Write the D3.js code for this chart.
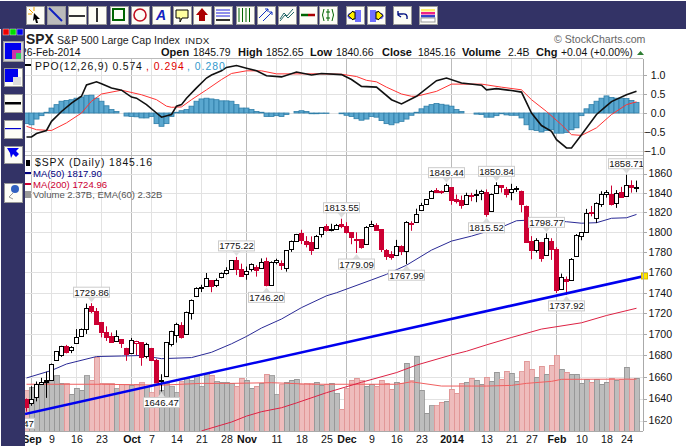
<!DOCTYPE html>
<html>
<head>
<meta charset="utf-8">
<script src="https://cdn.jsdelivr.net/npm/d3@7"></script>
<style>
  html, body { margin: 0; padding: 0; background: #fff; }
  svg { display: block; }
  text { font-family: "Liberation Sans", Arial, sans-serif; }
</style>
</head>
<body>
<svg id="chart" width="686" height="446"></svg>
<script>
// trading days, Aug 28 2013 to Feb 26 2014
const dates = ["Aug 28","Aug 29","Aug 30",
  "Sep 3","Sep 4","Sep 5","Sep 6","Sep 9","Sep 10","Sep 11","Sep 12","Sep 13","Sep 16","Sep 17","Sep 18","Sep 19","Sep 20","Sep 23","Sep 24","Sep 25","Sep 26","Sep 27","Sep 30",
  "Oct 1","Oct 2","Oct 3","Oct 4","Oct 7","Oct 8","Oct 9","Oct 10","Oct 11","Oct 14","Oct 15","Oct 16","Oct 17","Oct 18","Oct 21","Oct 22","Oct 23","Oct 24","Oct 25","Oct 28","Oct 29","Oct 30","Oct 31",
  "Nov 1","Nov 4","Nov 5","Nov 6","Nov 7","Nov 8","Nov 11","Nov 12","Nov 13","Nov 14","Nov 15","Nov 18","Nov 19","Nov 20","Nov 21","Nov 22","Nov 25","Nov 26","Nov 27","Nov 29",
  "Dec 2","Dec 3","Dec 4","Dec 5","Dec 6","Dec 9","Dec 10","Dec 11","Dec 12","Dec 13","Dec 16","Dec 17","Dec 18","Dec 19","Dec 20","Dec 23","Dec 24","Dec 26","Dec 27","Dec 30","Dec 31",
  "Jan 2","Jan 3","Jan 6","Jan 7","Jan 8","Jan 9","Jan 10","Jan 13","Jan 14","Jan 15","Jan 16","Jan 17","Jan 21","Jan 22","Jan 23","Jan 24","Jan 27","Jan 28","Jan 29","Jan 30","Jan 31",
  "Feb 3","Feb 4","Feb 5","Feb 6","Feb 7","Feb 10","Feb 11","Feb 12","Feb 13","Feb 14","Feb 18","Feb 19","Feb 20","Feb 21","Feb 24","Feb 25","Feb 26"];

const opens = [1630.25,1633.5,1640,
  1635.95,1640.72,1653.28,1657.44,1656.85,1675.11,1681.04,1689.21,1685.04,1691.7,1697.73,1705.74,1727.34,1722.44,1711.44,1702.6,1698.02,1694.05,1695.52,1687.26,
  1682.41,1691.9,1692.35,1678.79,1687.15,1676.22,1656.99,1660.88,1691.09,1699.86,1709.17,1700.49,1720.17,1736.72,1745.2,1746.48,1752.27,1747.48,1756.01,1759.42,1762.93,1772.27,1763.24,
  1758.7,1763.4,1765.67,1765,1770.74,1748.37,1769.96,1769.51,1764.37,1782.75,1790.66,1798.82,1790.79,1789.59,1783.52,1797.21,1806.33,1802.87,1803.48,1808.01,
  1806.55,1800.1,1793.15,1792.82,1788.36,1806.21,1807.51,1802.76,1781.71,1777.98,1777.48,1786.47,1781.46,1809,1810.39,1822.92,1828.02,1834.96,1842.97,1841.47,1842.61,
  1845.86,1833.21,1832.31,1828.71,1837.9,1839,1840.06,1841.26,1821.36,1840.52,1847.99,1844.23,1841.05,1844.71,1842.29,1826.96,1791.03,1783,1790.15,1777.17,1790.88,
  1782.68,1743.82,1753.38,1752.99,1776.01,1796.2,1800.45,1820.12,1814.82,1828.46,1839.03,1838.9,1829.24,1841.07,1836.78,1847.66,1845.79];
const highs = [1641.18,1646.41,1640.08,
  1651.35,1655.72,1659.17,1664.83,1672.4,1684.09,1689.13,1689.97,1688.73,1704.95,1705.52,1729.44,1729.86,1725.23,1711.44,1707.63,1701.71,1703.85,1695.52,1687.26,
  1696.55,1693.87,1692.35,1691.94,1687.15,1676.79,1662.47,1692.56,1703.44,1711.03,1711.57,1721.76,1733.45,1745.31,1747.79,1759.33,1752.27,1753.94,1759.82,1764.99,1772.09,1775.22,1768.53,
  1765.67,1768.78,1767.03,1773.74,1774.54,1770.78,1773.44,1771.78,1782,1791.53,1798.22,1802.33,1795.95,1795.73,1797.16,1804.84,1808.1,1808.42,1808.27,1813.55,
  1810.02,1800.1,1799.8,1792.82,1806.04,1811.52,1808.98,1802.97,1782.99,1780.92,1792.22,1786.77,1811.08,1810.88,1823.75,1829.75,1833.32,1842.84,1844.89,1842.47,1849.44,
  1845.86,1838.24,1837.16,1840.1,1840.02,1843.23,1843.15,1843.45,1839.26,1850.84,1847.99,1846.04,1849.31,1846.87,1842.29,1826.96,1795.98,1793.87,1790.15,1798.77,1793.88,
  1784.83,1758.73,1755.79,1774.06,1798.03,1799.94,1823.54,1826.55,1830.25,1841.65,1842.87,1847.5,1842.79,1846.13,1858.71,1852.91,1852.65];
const lows = [1627.47,1630.88,1628.05,
  1633.41,1637.41,1653.07,1640.62,1656.85,1675.11,1678.7,1681.96,1682.22,1691.7,1697.73,1700.35,1720.2,1708.89,1697.1,1693.74,1691.88,1693.11,1687.11,1674.99,
  1682.07,1680.34,1670.36,1677.33,1674.7,1655.03,1646.47,1660.88,1688.52,1692.13,1695.93,1700.49,1714.12,1735.74,1740.67,1746.48,1740.5,1745.5,1754.17,1757.67,1762.93,1757.24,1755.72,
  1752.7,1760.73,1755.76,1764.23,1746.2,1747.63,1767.85,1762.29,1760.64,1780.22,1790.66,1788,1784.72,1777.23,1783.52,1794.7,1800.58,1800.77,1802.77,1803.98,
  1798.6,1787.85,1779.09,1783.38,1788.36,1806.21,1802.62,1780.09,1772.28,1772.45,1777.48,1777.05,1767.99,1801.35,1810.25,1822.92,1828.02,1834.96,1839.81,1838.77,1842.41,
  1827.74,1829.13,1823.73,1828.71,1831.4,1830.38,1832.43,1815.52,1821.36,1840.52,1840.3,1835.23,1832.38,1840.88,1820.06,1790.29,1772.88,1779.49,1770.45,1777.17,1772.26,
  1739.66,1743.82,1737.92,1752.99,1776.01,1791.83,1800.41,1815.97,1809.22,1825.59,1835.01,1826.99,1824.58,1835.6,1836.78,1840.19,1840.66];
const closes = [1634.96,1638.17,1632.97,
  1639.77,1653.08,1655.08,1655.17,1671.71,1683.99,1689.13,1683.42,1687.99,1697.6,1704.76,1725.52,1722.34,1709.91,1701.84,1697.42,1692.77,1698.67,1691.75,1681.55,
  1695,1693.87,1678.66,1690.5,1676.12,1655.45,1656.4,1692.56,1703.2,1710.14,1698.06,1721.54,1733.15,1744.5,1744.66,1754.67,1746.38,1752.07,1759.77,1762.11,1771.95,1763.31,1756.54,
  1761.64,1767.93,1762.97,1770.49,1747.15,1770.61,1771.89,1767.69,1782,1790.62,1798.18,1791.53,1787.87,1781.37,1795.85,1804.76,1802.48,1802.75,1807.23,1805.81,
  1800.9,1795.15,1792.81,1785.03,1805.09,1808.37,1802.62,1782.22,1775.5,1775.32,1786.54,1781,1810.65,1809.6,1818.32,1827.99,1833.32,1842.02,1841.4,1841.07,1848.36,
  1831.98,1831.37,1826.77,1837.88,1837.49,1838.13,1842.37,1819.2,1838.88,1848.38,1845.89,1838.7,1843.8,1844.86,1828.46,1790.29,1781.56,1792.5,1774.2,1794.19,1782.59,
  1741.89,1755.2,1751.64,1773.43,1797.02,1799.84,1819.75,1819.26,1829.83,1838.63,1840.76,1828.75,1839.78,1836.25,1847.61,1845.12,1845.16];

// volume in billions
const volumes = [1.79,1.79,1.8,
  1.95,2.06,2.09,2.14,2.29,2.46,2.13,2.13,1.65,1.91,1.83,2.46,2.28,3.3,2.13,2.13,2.13,1.88,2.09,2.09,
  2.05,2.1,2.16,1.98,1.71,2.13,1.83,2.13,1.98,1.71,2.2,2.35,2.25,2.43,1.98,2.55,2.5,2.2,2.17,2.17,2.13,2,2.35,
  2.28,1.91,2.01,2.13,2.53,2.46,1.61,2.06,2.19,2.26,2.31,2.06,2.12,2.12,2.19,2.04,2.06,2.13,1.66,0.97,
  1.89,2.28,2.37,2.24,2.01,2.09,2.01,2.28,2.13,1.86,2.19,2.13,3.02,2.24,3.35,1.83,0.8,1.14,1.14,1.29,1.34,
  1.86,1.69,2.13,2.19,2.37,2.26,2.09,2.4,2.22,2.62,2.31,2.67,2.58,2.22,2.64,3.11,2.76,2.4,2.89,2.53,2.94,
  3.38,2.76,2.62,2.53,2.53,2.13,2.31,2.19,2.31,2.09,2.18,2.35,2.28,2.31,2.85,2.31,2.37];

// PPO histogram per day
const ppoHist = [-0.25,-0.27,-0.28,
  -0.31,-0.16,-0.07,0.02,0.13,0.22,0.31,0.33,0.35,0.39,0.42,0.46,0.47,0.39,0.31,0.19,0.09,0.04,0,-0.08,
  -0.09,-0.1,-0.13,-0.13,-0.09,-0.28,-0.35,-0.28,-0.09,0.02,0.06,0.09,0.18,0.31,0.37,0.39,0.37,0.35,0.32,0.32,0.31,0.22,0.13,
  0.13,0.09,0.04,0.02,-0.09,-0.09,-0.07,-0.09,-0.04,0,0.04,0.06,0.04,-0.02,-0.02,-0.01,-0.01,0,0,-0.02,
  -0.06,-0.09,-0.15,-0.19,-0.16,-0.09,-0.11,-0.2,-0.28,-0.31,-0.26,-0.22,-0.16,-0.06,0.02,0.11,0.18,0.22,0.25,0.23,0.21,
  0.18,0.09,0.04,0,0,-0.03,-0.04,-0.11,-0.11,-0.07,-0.02,-0.05,-0.06,-0.06,-0.13,-0.31,-0.44,-0.46,-0.5,-0.46,-0.44,
  -0.53,-0.53,-0.51,-0.44,-0.39,-0.07,0.11,0.22,0.31,0.39,0.45,0.41,0.39,0.39,0.38,0.33,0.28];

// line series: bar numbers into dates, then values
const ppoBars = [2,3,4,6,7,9,11,13,14,16,17,19,21,23,24,26,28,29,31,32,33,34,36,38,39,41,42,44,46,48,50,53,56,59,61,65,67,69,72,75,77,80,84,86,89,93,94,96,99,101,103,105,107,108,110,111,113,116,118,119,122,124];
const ppoLine = [-0.63,-0.63,-0.54,-0.46,-0.22,0.04,0.26,0.44,0.74,0.82,0.77,0.66,0.6,0.42,0.39,0.22,0,-0.11,-0.04,0.18,0.22,0.39,0.66,0.92,1,1.11,1.2,1.25,1.18,1.11,0.98,0.95,1.08,1,1.04,1.01,0.88,0.7,0.68,0.35,0.24,0.44,0.85,0.92,0.79,0.73,0.61,0.64,0.59,0.55,0,-0.33,-0.48,-0.7,-0.92,-0.92,-0.57,-0.04,0.19,0.3,0.48,0.574];
const signalBars = [2,4,7,10,13,15,17,21,25,28,30,31,33,35,38,41,43,46,49,52,57,61,65,68,70,72,74,77,79,80,84,87,93,97,101,103,106,109,111,113,116,119,122,124];
const signalLine = [-0.35,-0.44,-0.46,-0.26,0,0.31,0.5,0.6,0.48,0.35,0.18,0.15,0.16,0.35,0.61,0.88,1.04,1.11,1.11,1.03,1.03,1.03,1.02,0.96,0.86,0.82,0.68,0.5,0.44,0.44,0.57,0.76,0.76,0.68,0.61,0.35,0.04,-0.31,-0.57,-0.59,-0.39,-0.04,0.22,0.294];

const ma50Bars = [2,7,10,16,21,25,29,35,39,43,46,49,53,57,62,64,71,74,78,83,87,91,94,97,100,102,106,110,113,116,119,122,124];
const ma50 = [1659,1666,1672,1679,1679.5,1680,1677,1678,1683,1691,1698,1706,1714.6,1725.6,1737,1740,1752.5,1758,1767,1782,1791,1796,1800.5,1805,1811.5,1812,1812,1810.5,1809,1809.5,1814,1814.5,1817.9];
const ma200Bars = [37,43,46,49,53,56,62,69,76,80,87,90,94,99,105,113,118,124];
const ma200 = [1610.6,1618.6,1624,1628,1631.6,1636,1645.4,1655,1664,1671,1680.5,1684,1690,1697,1705,1711,1718,1724.96];

const volEmaBars = [2,17,29,37,43,51,59,76,79,85,91,94,99,102,107,109,124];
const volEma = [2.09,2.09,2.05,2.13,2.13,2.16,2.09,2.09,2.2,2.01,2.01,2.01,2.04,2.13,2.22,2.31,2.32];

// annotated highs and lows
const noteBars = ["Aug 28","Sep 19","Oct 9","Oct 30","Nov 7","Nov 29","Dec 4","Dec 18","Dec 31","Jan 13","Jan 15","Jan 30","Feb 5","Feb 24"];
const noteValues = [1627.47,1729.86,1646.47,1775.22,1746.2,1813.55,1779.09,1767.99,1849.44,1815.52,1850.84,1798.77,1737.92,1858.71];
const noteSides = ["low","high","low","high","low","high","low","low","high","low","high","high","low","high"];

// hand drawn trend line, bar number and price at each end
const trendBars = [1.7,125.6];
const trendPrices = [1625.9,1756.4];

const priceTicks = [1620,1640,1660,1680,1700,1720,1740,1760,1780,1800,1820,1840,1860];
const ppoTicks = [-1,-0.5,0,0.5,1];
const tickDates = ["Sep 3","Sep 9","Sep 16","Sep 23","Oct 1","Oct 7","Oct 14","Oct 21","Oct 28","Nov 1","Nov 11","Nov 18","Nov 25","Dec 2","Dec 9","Dec 16","Dec 23","Jan 2","Jan 13","Jan 21","Jan 27","Feb 3","Feb 10","Feb 18","Feb 24"];
const tickLabels = ["Sep","9","16","23","Oct","7","14","21","28","Nov","11","18","25","Dec","9","16","23","2014","13","21","27","Feb","10","18","24"];
const boldTicks = ["Sep","Oct","Nov","Dec","2014","Feb"];

const NAVY = "#333366", RED = "#cc0033";
const svg = d3.select("#chart");

// scales
const x = d3.scaleLinear().domain([0, dates.length - 1]).range([16.5, 636.5]);
const xDate = d => x(dates.indexOf(d));
const yPrice = d3.scaleLog().domain([1620, 1860]).range([420.5, 173.5]);
const yPpo = d3.scaleLinear().domain([-1, 1]).range([151, 75]);
const yVol = d3.scaleLinear().domain([0, 2.37]).range([431, 378]);

svg.append("rect").attr("width", 686).attr("height", 446).attr("fill", "#fff");

const defs = svg.append("defs");
defs.append("clipPath").attr("id", "clipPrice").append("rect").attr("x", 25).attr("y", 155).attr("width", 618).attr("height", 276);
defs.append("clipPath").attr("id", "clipPpo").append("rect").attr("x", 25).attr("y", 59).attr("width", 618).attr("height", 96);

// grid
const grid = svg.append("g").attr("shape-rendering", "crispEdges");
[[59, 155], [155, 431]].forEach(([top, bottom]) => {
  grid.selectAll(null).data(tickDates).enter().append("line")
    .attr("x1", d => Math.floor(xDate(d)) + 0.5).attr("x2", d => Math.floor(xDate(d)) + 0.5)
    .attr("y1", top).attr("y2", bottom)
    .attr("stroke", (d, i) => boldTicks.includes(tickLabels[i]) ? "#bbb" : "#e2e2e2");
});
grid.selectAll(null).data(priceTicks).enter().append("line")
  .attr("x1", 25).attr("x2", 643)
  .attr("y1", d => Math.round(yPrice(d)) + 0.5).attr("y2", d => Math.round(yPrice(d)) + 0.5)
  .attr("stroke", "#e2e2e2");
grid.selectAll(null).data(ppoTicks).enter().append("line")
  .attr("x1", 25).attr("x2", 643)
  .attr("y1", d => Math.round(yPpo(d)) + 0.5).attr("y2", d => Math.round(yPpo(d)) + 0.5)
  .attr("stroke", "#e2e2e2");

// PPO panel
const ppoPanel = svg.append("g").attr("clip-path", "url(#clipPpo)");
ppoPanel.selectAll("rect").data(ppoHist).enter().append("rect")
  .attr("x", (d, i) => x(i) - 2.5).attr("width", 5)
  .attr("y", d => Math.min(yPpo(d), yPpo(0)))
  .attr("height", d => Math.abs(yPpo(d) - yPpo(0)))
  .attr("fill", "#5aa7cf").attr("stroke", "#2f7ea8").attr("stroke-width", 0.8);
const seriesLine = (bars, vals, yScale) => d3.line().x((d, i) => x(bars[i])).y(d => yScale(d))(vals);
ppoPanel.append("path").attr("d", seriesLine(signalBars, signalLine, yPpo))
  .attr("fill", "none").attr("stroke", "#ff3333").attr("stroke-width", 1);
ppoPanel.append("path").attr("d", seriesLine(ppoBars, ppoLine, yPpo))
  .attr("fill", "none").attr("stroke", "#111").attr("stroke-width", 1.6);

// volume overlay
const pricePanel = svg.append("g").attr("clip-path", "url(#clipPrice)");
const isDown = i => i > 0 && closes[i] < closes[i - 1];
pricePanel.selectAll("rect.vol").data(volumes).enter().append("rect").attr("class", "vol")
  .attr("x", (d, i) => x(i) - 2.5).attr("width", 5)
  .attr("y", d => yVol(d)).attr("height", d => yVol(0) - yVol(d))
  .attr("fill", (d, i) => isDown(i) ? "#eebcbc" : "#bdbdbd")
  .attr("stroke", (d, i) => isDown(i) ? "#dd8f8f" : "#8f8f8f").attr("stroke-width", 0.8)
  .attr("shape-rendering", "crispEdges");
pricePanel.append("path").attr("d", seriesLine(volEmaBars, volEma, yVol))
  .attr("fill", "none").attr("stroke", "#f06060").attr("stroke-width", 1);

// moving averages
pricePanel.append("path").attr("d", seriesLine(ma50Bars, ma50, yPrice))
  .attr("fill", "none").attr("stroke", "#2a2a96").attr("stroke-width", 1);
pricePanel.append("path").attr("d", seriesLine(ma200Bars, ma200, yPrice))
  .attr("fill", "none").attr("stroke", "#dd2244").attr("stroke-width", 1);

// candles
const candles = pricePanel.selectAll("g.candle").data(dates).enter().append("g").attr("class", "candle");
const candleColor = i => (isDown(i) ? RED : "#000");
candles.append("line")
  .attr("x1", (d, i) => x(i)).attr("x2", (d, i) => x(i))
  .attr("y1", (d, i) => yPrice(highs[i])).attr("y2", (d, i) => yPrice(lows[i]))
  .attr("stroke", (d, i) => candleColor(i));
candles.append("rect")
  .attr("x", (d, i) => x(i) - 2).attr("width", 4)
  .attr("y", (d, i) => Math.round(yPrice(Math.max(opens[i], closes[i]))) + 0.5)
  .attr("height", (d, i) => Math.max(Math.abs(yPrice(opens[i]) - yPrice(closes[i])), 0.5))
  .attr("fill", (d, i) => closes[i] > opens[i] ? "#fff" : candleColor(i))
  .attr("stroke", (d, i) => candleColor(i))
  .attr("shape-rendering", "crispEdges");

// trend line
pricePanel.append("path").attr("d", seriesLine(trendBars, trendPrices, yPrice))
  .attr("fill", "none").attr("stroke", "#0000ee").attr("stroke-width", 2.6);

// high / low notes
const notes = pricePanel.selectAll("g.note").data(noteBars).enter().append("g").attr("class", "note")
  .attr("transform", (d, i) => `translate(${xDate(d)},${yPrice(noteValues[i])})`);
notes.append("path")
  .attr("d", (d, i) => noteSides[i] === "high" ? "M-4,-6L0,-1L4,-6Z" : "M-4,6L0,1L4,6Z")
  .attr("fill", "#ddd");
notes.append("rect")
  .attr("x", -18).attr("width", 36).attr("height", 10)
  .attr("y", (d, i) => noteSides[i] === "high" ? -16 : 6)
  .attr("fill", "#fff").attr("stroke", "#ccc");
notes.append("text")
  .attr("y", (d, i) => noteSides[i] === "high" ? -7.5 : 14.5)
  .attr("text-anchor", "middle").attr("font-size", 9.6).attr("fill", "#111")
  .text((d, i) => noteValues[i].toFixed(2));

// trend line handle
svg.append("rect").attr("x", x(trendBars[1]) - 3).attr("y", yPrice(trendPrices[1]) - 3)
  .attr("width", 6).attr("height", 6).attr("fill", "#ffe600").attr("stroke", "#d8b800");

// axes
const styleAxis = (g, size) => {
  g.selectAll("path,line").attr("stroke", "#aaa").attr("shape-rendering", "crispEdges");
  g.selectAll("text").attr("font-size", size).attr("fill", "#111")
    .attr("font-family", '"Liberation Sans", Arial, sans-serif');
};
const priceAxis = svg.append("g").attr("transform", "translate(643.5,0)")
  .call(d3.axisRight(yPrice).tickValues(priceTicks).tickFormat(d3.format("d")).tickSize(3).tickPadding(3));
priceAxis.select(".domain").attr("d", "M0,155V431");
styleAxis(priceAxis, 10.6);
priceAxis.selectAll("text").attr("x", 5);
const ppoAxis = svg.append("g").attr("transform", "translate(643.5,0)")
  .call(d3.axisRight(yPpo).tickValues(ppoTicks).tickFormat(d3.format(".1f")).tickSize(3).tickPadding(3));
ppoAxis.select(".domain").attr("d", "M0,59V155");
styleAxis(ppoAxis, 10.6);
ppoAxis.selectAll("text").attr("text-anchor", "end").attr("x", 22);

const dateAxis = svg.append("g").attr("transform", "translate(0,431.5)")
  .call(d3.axisBottom(x).tickValues(tickDates.map(d => dates.indexOf(d)))
    .tickFormat((d, i) => tickLabels[i]).tickSize(0).tickPadding(4));
dateAxis.select(".domain").attr("d", "M25,0H643");
styleAxis(dateAxis, 10.6);
dateAxis.selectAll("text").attr("font-weight", (d, i) => boldTicks.includes(tickLabels[i]) ? "bold" : "normal");

svg.append("line").attr("x1", 25).attr("x2", 643).attr("y1", 155.5).attr("y2", 155.5).attr("stroke", "#bbb");
svg.append("line").attr("x1", 25).attr("x2", 643).attr("y1", 58.5).attr("y2", 58.5).attr("stroke", "#bbb");

// header text
const headerText = (tx, ty, str, size, opts = {}) => svg.append("text").attr("x", tx).attr("y", ty)
  .attr("font-size", size).attr("fill", opts.fill || "#111")
  .attr("font-weight", opts.bold ? "bold" : "normal")
  .attr("font-family", opts.font || null)
  .attr("letter-spacing", opts.track || null).text(str);
headerText(26, 44, "SPX", 13.8, { bold: true, fill: "#222" });
headerText(57, 44, "S&P 500 Large Cap Index", 10.6, { fill: "#222" });
headerText(185, 44, "INDX", 9.8, { fill: "#222", track: 0.3 });
headerText(554, 43, "© StockCharts.com", 10.6, { fill: "#666", font: "DejaVu Sans", track: 0 });

const quoteRow = [[21, "26-Feb-2014", 0], [161, "Open", 1], [193, "1845.79", 0], [238, "High", 1], [266, "1852.65", 0], [310, "Low", 1], [336, "1840.66", 0], [382, "Close", 1], [418, "1845.16", 0], [462, "Volume", 1], [508, "2.4B", 0], [536, "Chg", 1], [561, "+0.04 (+0.00%)", 0]];
quoteRow.forEach(([tx, str, b]) => headerText(tx, 56, str, b ? 11 : 10.4, { bold: !!b }));
svg.append("path").attr("d", "M637,55h7l-3.5,-4Z").attr("fill", "#2e7d32");

// legends
headerText(35, 70, "PPO(12,26,9) 0.574", 10.4, { font: "DejaVu Sans", fill: "#111", track: 0.85 });
headerText(146, 70, ", 0.294", 10.4, { font: "DejaVu Sans", fill: "#e00000", track: 1 });
headerText(187, 70, ", 0.280", 10.4, { font: "DejaVu Sans", fill: "#3399cc", track: 1 });
svg.append("rect").attr("x", 25).attr("y", 64).attr("width", 6).attr("height", 2).attr("fill", "#000");

headerText(35, 166, "$SPX (Daily) 1845.16", 10.4, { font: "DejaVu Sans", track: 0.9 });
headerText(33, 177, "MA(50) 1817.90", 9.6, { fill: "#000080" });
headerText(33, 188, "MA(200) 1724.96", 9.6, { fill: RED });
headerText(33, 198, "Volume 2.37B, EMA(60) 2.32B", 9.5, { fill: "#555" });
svg.append("rect").attr("x", 26).attr("y", 160).attr("width", 4).attr("height", 6).attr("fill", "#000");
svg.append("rect").attr("x", 25).attr("y", 172).attr("width", 6).attr("height", 2).attr("fill", "#000080");
svg.append("rect").attr("x", 25).attr("y", 183).attr("width", 6).attr("height", 2).attr("fill", RED);
svg.append("rect").attr("x", 25).attr("y", 191).attr("width", 6).attr("height", 7).attr("fill", "#999");

// toolbar and sidebar chrome
svg.append("rect").attr("x", 0).attr("y", 1).attr("width", 686).attr("height", 28).attr("fill", NAVY);
svg.append("rect").attr("x", 1).attr("y", 1).attr("width", 24).attr("height", 445).attr("fill", NAVY);

const button = (bx, by, w, h, fill) => svg.append("g").attr("transform", `translate(${bx},${by})`)
  .call(g => g.append("rect").attr("width", w).attr("height", h).attr("fill", fill || "#fdfdf6")
    .attr("stroke", "#999").attr("stroke-width", 1).attr("shape-rendering", "crispEdges"));
const toolX = [26, 47, 68, 88, 110, 131, 152, 173, 193, 214, 236, 257, 278, 299, 319, 346, 367, 393, 419];
const toolGlyphs = [
  g => { g.append("path").attr("d", "M8,7l6,6h-3l1,4l-2,0l-1,-4l-2,2Z").attr("fill", "#000"); g.append("path").attr("d", "M3,3l4,4M8,1v4M2,8h4").attr("stroke", "#f0a000"); },
  g => g.append("line").attr("x1", 2).attr("y1", 2).attr("x2", 15).attr("y2", 15).attr("stroke", "#1020c0").attr("stroke-width", 2),
  g => g.append("line").attr("x1", 1).attr("y1", 10).attr("x2", 17).attr("y2", 10).attr("stroke", "#333").attr("stroke-width", 2),
  g => g.append("line").attr("x1", 9).attr("y1", 2).attr("x2", 9).attr("y2", 16).attr("stroke", "#333").attr("stroke-width", 2),
  g => g.append("rect").attr("x", 3).attr("y", 3).attr("width", 11).attr("height", 11).attr("fill", "none").attr("stroke", "#006400").attr("stroke-width", 2),
  g => g.append("circle").attr("cx", 9).attr("cy", 9).attr("r", 6).attr("fill", "none").attr("stroke", "#c01020").attr("stroke-width", 1.6),
  g => g.append("text").attr("x", 9).attr("y", 14).attr("text-anchor", "middle").attr("font-size", 14).attr("font-weight", "bold").attr("font-style", "italic").attr("fill", "#1020c0").text("A"),
  g => g.append("path").attr("d", "M3,4h12v8h-6l-2,4v-4h-4Z").attr("fill", "#ffffa0").attr("stroke", "#000"),
  g => g.append("path").attr("d", "M9,2l6,7h-3v6h-6v-6h-3Z").attr("fill", "#aa0000"),
  g => g.append("path").attr("d", "M2,4h14M2,7h14M2,10h14").attr("stroke", "#2020e0").call(s => g.append("path").attr("d", "M2,14h14").attr("stroke", "#333").attr("stroke-width", 2)),
  g => g.append("path").attr("d", "M3,2v14M6.5,2v14M10,2v14M13.5,2v14").attr("stroke", "#006400"),
  g => g.append("path").attr("d", "M2,12L11,3M6,15L15,6M11,3h-3M11,3v3M15,6h-3M15,6v3").attr("stroke", "#1030c0").attr("fill", "none"),
  g => g.append("path").attr("d", "M2,13L6,7L9,10L15,3M2,15L7,9L10,12L16,6").attr("stroke", "#226666").attr("fill", "none"),
  g => g.append("path").attr("d", "M2,9h7").attr("stroke", "#006400").attr("stroke-width", 2.5).call(s => g.append("path").attr("d", "M9,9h7").attr("stroke", "#aa0000").attr("stroke-width", 2.5)),
  g => g.append("path").attr("d", "M5,3q-3,6,0,12M13,3q3,6,0,12M9,3v12M7,6h4M7,12h4").attr("stroke", "#006400").attr("fill", "none"),
  g => g.append("path").attr("d", "M15,4h-6v3h-6l-2,3l2,3h6v3h6Z").attr("fill", "#7070ff").call(s => g.append("path").attr("d", "M9,6h-2v-1l-5,4.5l5,4.5v-1h2Z").attr("fill", "#ffee00").attr("stroke", "#000")),
  g => g.append("path").attr("d", "M3,4h6v3h6l2,3l-2,3h-6v3h-6Z").attr("fill", "#7070ff").call(s => g.append("path").attr("d", "M9,6h2v-1l5,4.5l-5,4.5v-1h-2Z").attr("fill", "#ffee00").attr("stroke", "#000")),
  g => g.append("path").attr("d", "M14,13q1,-6,-5,-5h-4M5,5v4l3,2").attr("stroke", "#001080").attr("stroke-width", 1.4).attr("fill", "none"),
  g => { [["#ffee66", 3], ["#ee2288", 6], ["#3344cc", 9]].forEach(([c, ty]) => g.append("rect").attr("x", 2).attr("y", ty).attr("width", 14).attr("height", 2.5).attr("fill", c)); g.append("rect").attr("x", 2).attr("y", 12).attr("width", 14).attr("height", 4).attr("fill", "#fff").attr("stroke", "#999"); }
];
toolX.forEach((bx, i) => toolGlyphs[i](button(bx, 6, 18, 18, i === 1 ? "#bbb" : null)));

// colour swatches on the left
[["#ee0000", 3], ["#00dd00", 10], ["#0000ee", 17]].forEach(([c, sx]) => svg.append("rect").attr("x", sx).attr("y", 29).attr("width", 6).attr("height", 6).attr("fill", c).attr("stroke", "#fff").attr("stroke-width", 0.4));
button(3, 41, 20, 20, "#ccc").call(g => { g.append("rect").attr("x", 2).attr("y", 2).attr("width", 16).attr("height", 16).attr("fill", "#0000ee"); g.append("rect").attr("x", 9).attr("y", 9).attr("width", 9).attr("height", 9).attr("fill", "#cc33aa"); g.append("rect").attr("x", 13).attr("y", 12).attr("width", 5).attr("height", 6).attr("fill", "#33cc66"); });
button(4, 68, 18, 18).call(g => { g.append("rect").attr("x", 1).attr("y", 1).attr("width", 13).attr("height", 13).attr("fill", "#0000ee"); g.append("rect").attr("x", 9).attr("y", 9).attr("width", 8).attr("height", 8).attr("fill", "#ddd"); });
button(4, 94, 18, 18).call(g => g.append("rect").attr("x", 1).attr("y", 8).attr("width", 16).attr("height", 2.5).attr("fill", "#000"));
button(4, 120, 18, 18).call(g => g.append("rect").attr("x", 1).attr("y", 8).attr("width", 16).attr("height", 1.2).attr("fill", "#0000cc"));
button(4, 146, 18, 17).call(g => g.append("path").attr("d", "M3,2h12l-3,3l3,3l-3,3l-3,-3l-2,4l-1,-5Z").attr("fill", "#0000ee"));
button(4, 183, 18, 19).call(g => { g.append("circle").attr("cx", 11).attr("cy", 6).attr("r", 4).attr("fill", "#3060c0"); g.append("path").attr("d", "M9,10l-4,4l4,2").attr("stroke", "#999").attr("fill", "none"); });
</script>
</body>
</html>
